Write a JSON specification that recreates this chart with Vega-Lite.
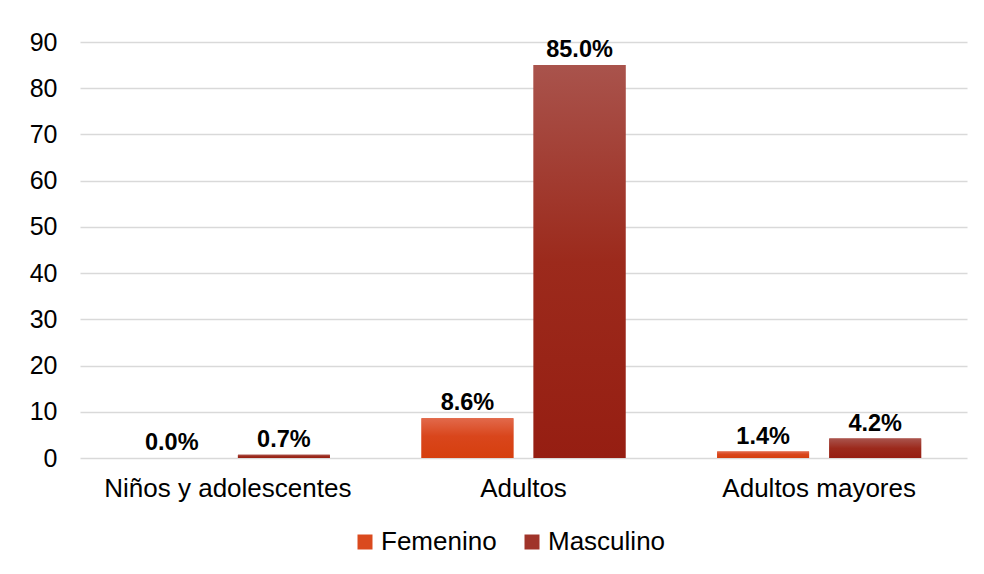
{
  "$schema": "https://vega.github.io/schema/vega-lite/v6.json",
  "width": 887,
  "height": 416,
  "autosize": {"type": "none"},
  "padding": {"left": 80, "top": 42, "right": 17, "bottom": 116},
  "background": "white",
  "config": {
    "view": {"stroke": null},
    "font": "Liberation Sans",
    "axis": {"labelFont": "Liberation Sans", "labelColor": "#000000", "domain": false, "ticks": false}
  },
  "data": {
    "values": [
      {"grupo": "Niños y adolescentes", "sexo": "Femenino", "valor": 0.0, "etiqueta": "0.0%"},
      {"grupo": "Niños y adolescentes", "sexo": "Masculino", "valor": 0.7, "etiqueta": "0.7%"},
      {"grupo": "Adultos", "sexo": "Femenino", "valor": 8.6, "etiqueta": "8.6%"},
      {"grupo": "Adultos", "sexo": "Masculino", "valor": 85.0, "etiqueta": "85.0%"},
      {"grupo": "Adultos mayores", "sexo": "Femenino", "valor": 1.4, "etiqueta": "1.4%"},
      {"grupo": "Adultos mayores", "sexo": "Masculino", "valor": 4.2, "etiqueta": "4.2%"}
    ]
  },
  "encoding": {
    "x": {
      "field": "grupo", "type": "nominal", "sort": ["Niños y adolescentes", "Adultos", "Adultos mayores"],
      "scale": {"paddingInner": 0.31, "paddingOuter": 0.155},
      "axis": {"title": null, "labelAngle": 0, "labelFontSize": 26, "labelPadding": 17, "labelLimit": 0, "grid": false}
    },
    "xOffset": {"field": "sexo", "type": "nominal", "sort": ["Femenino", "Masculino"], "scale": {"paddingInner": 0.18, "paddingOuter": 0}},
    "y": {
      "field": "valor", "type": "quantitative",
      "scale": {"domain": [0, 90], "nice": false},
      "axis": {"title": null, "values": [0, 10, 20, 30, 40, 50, 60, 70, 80, 90], "labelFontSize": 25, "labelPadding": 23, "grid": true, "gridColor": "#d9d9d9", "gridWidth": 1.3}
    }
  },
  "layer": [
    {
      "mark": {"type": "bar"},
      "encoding": {
        "color": {
          "field": "sexo", "type": "nominal", "sort": ["Femenino", "Masculino"],
          "scale": {"domain": ["Femenino", "Masculino"], "range": ["#DA4A1E", "#A0342A"]},
          "legend": {
            "title": null, "orient": "none", "direction": "horizontal", "legendX": 272, "legendY": 487,
            "symbolType": "square", "symbolSize": 225, "symbolStrokeWidth": 0, "symbolOpacity": 1, "labelFontSize": 26, "labelFont": "Liberation Sans",
            "labelColor": "#000000", "labelOffset": 3, "columnPadding": 22, "padding": 0
          }
        }
      }
    },
    {
      "transform": [{"filter": "datum.sexo === 'Femenino'"}],
      "mark": {"type": "bar", "color": {"gradient": "linear", "x1": 0, "y1": 0, "x2": 0, "y2": 1, "stops": [{"offset": 0, "color": "#E2694B"}, {"offset": 0.45, "color": "#D9461C"}, {"offset": 1, "color": "#D63F0E"}]}},
      "encoding": {}
    },
    {
      "transform": [{"filter": "datum.sexo === 'Masculino'"}],
      "mark": {"type": "bar", "color": {"gradient": "linear", "x1": 0, "y1": 0, "x2": 0, "y2": 1, "stops": [{"offset": 0, "color": "#A9534C"}, {"offset": 0.5, "color": "#9C2A1C"}, {"offset": 1, "color": "#961E12"}]}},
      "encoding": {}
    },
    {
      "mark": {"type": "text", "baseline": "bottom", "dy": -3, "fontSize": 23.5, "fontWeight": "bold", "font": "Liberation Sans", "color": "#000000"},
      "encoding": {"text": {"field": "etiqueta"}}
    }
  ]
}
